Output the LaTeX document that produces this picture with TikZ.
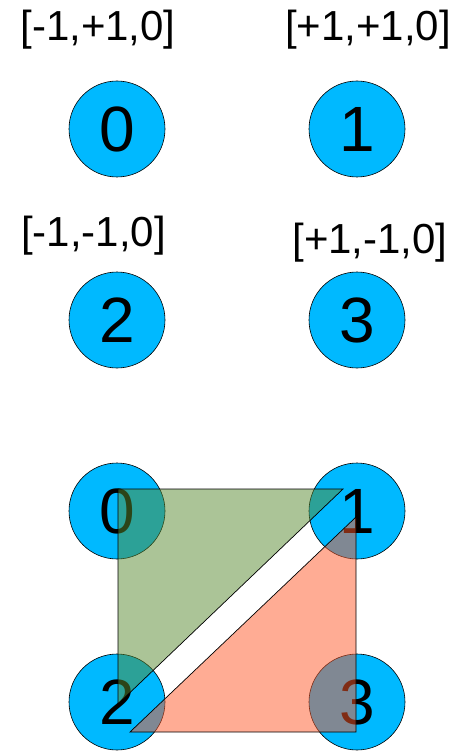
\documentclass[tikz,border=0pt]{standalone}
\usepackage{fontspec}
\setmainfont{Liberation Sans}
\definecolor{nodeblue}{RGB}{0,185,255}
\definecolor{trigreen}{RGB}{88,138,48}
\definecolor{trired}{RGB}{255,89,41}
\begin{document}
\begin{tikzpicture}[x=1pt,y=-1pt,
  vert/.style={circle,draw=black,line width=0.6pt,fill=nodeblue,minimum size=96pt,inner sep=0pt,font=\fontsize{64}{64}\selectfont},
  coordlabel/.style={inner sep=0pt,font=\fontsize{42}{42}\selectfont},
  tri/.style={draw=black,line width=0.7pt,fill opacity=0.5}]
\useasboundingbox (0,0) rectangle (456,751);
% top row
\node[coordlabel] (l0) at (98,30) {[-1,+1,0]};
\node[coordlabel] (l1) at (368,30) {[+1,+1,0]};
\node[vert] (a0) at (117,129) {0};
\node[vert] (a1) at (357,129) {1};
% second row
\node[coordlabel] (l2) at (93.5,236) {[-1,-1,0]};
\node[coordlabel] (l3) at (370,243) {[+1,-1,0]};
\node[vert] (a2) at (117,320) {2};
\node[vert] (a3) at (357,320) {3};
% bottom group
\node[vert] (b0) at (117,511) {0};
\node[vert] (b1) at (357,511) {1};
\node[vert] (b2) at (117,702) {2};
\node[vert] (b3) at (357,702) {3};
% triangle corners
\coordinate (g0) at (118,489);
\coordinate (g1) at (343,489);
\coordinate (g2) at (118,704);
\coordinate (r1) at (356,517);
\coordinate (r3) at (356,732);
\coordinate (r2) at (130,732);
\filldraw[tri,fill=trigreen] (g0) -- (g1) -- (g2) -- cycle;
\filldraw[tri,fill=trired] (r1) -- (r3) -- (r2) -- cycle;
\end{tikzpicture}
\end{document}
